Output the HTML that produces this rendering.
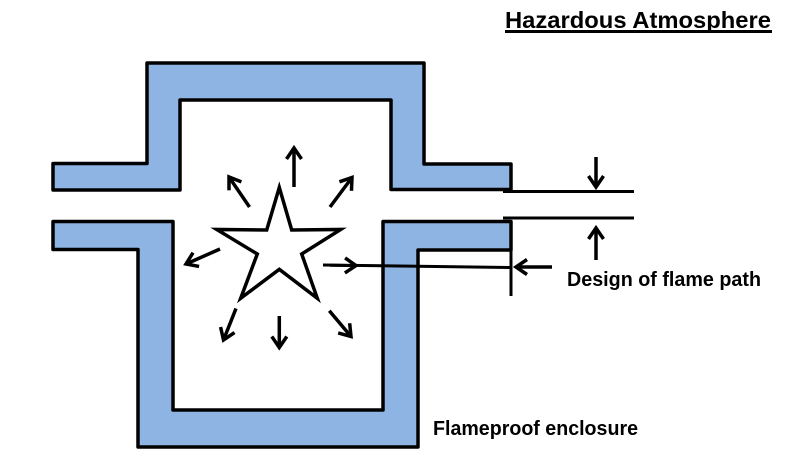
<!DOCTYPE html>
<html><head><meta charset="utf-8"><style>
html,body{margin:0;padding:0;background:#fff;}
svg{display:block;}
text{font-family:"Liberation Sans",Arial,sans-serif;font-weight:bold;fill:#000;}
</style></head><body>
<svg width="801" height="471" viewBox="0 0 801 471" xmlns="http://www.w3.org/2000/svg">
<defs>
<marker id="ah" markerUnits="userSpaceOnUse" markerWidth="20" markerHeight="20" refX="0" refY="0" viewBox="-14 -10 20 20" orient="auto" overflow="visible">
<path d="M-11,-7.5 L0,0 L-11,7.5" fill="none" stroke="#000" stroke-width="3.5" stroke-linejoin="miter"/>
</marker>
</defs>
<rect width="801" height="471" fill="#fff"/>
<!-- upper piece -->
<polygon points="53,163.5 147,163.5 147,63 424,63 424,164 511,164 511,189.5 391,189.5 391,100 180,100 180,190 53,190" fill="#8eb4e3" stroke="#000" stroke-width="3.5" stroke-linejoin="round"/>
<!-- lower piece -->
<polygon points="53,221.5 173,221.5 173,410 383,410 383,221.5 511,221.5 511,250 418,250 418,447 138,447 138,249.5 53,249.5" fill="#8eb4e3" stroke="#000" stroke-width="3.5" stroke-linejoin="round"/>
<!-- dimension lines -->
<polyline points="503,191.5 634,191.5" fill="none" stroke="#000" stroke-width="3"/>
<polyline points="503,218 634,218" fill="none" stroke="#000" stroke-width="3"/>
<line x1="511" y1="222" x2="511" y2="296" stroke="#000" stroke-width="3"/>
<line x1="596" y1="157" x2="596" y2="187" stroke="#000" stroke-width="3.5" marker-end="url(#ah)"/>
<line x1="596" y1="260" x2="596" y2="228" stroke="#000" stroke-width="3.5" marker-end="url(#ah)"/>
<line x1="552" y1="267" x2="516" y2="267" stroke="#000" stroke-width="3.5" marker-end="url(#ah)"/>
<line x1="323" y1="265" x2="511" y2="267.5" stroke="#000" stroke-width="3"/>
<line x1="330" y1="265.3" x2="356" y2="265.6" stroke="#000" stroke-width="3" marker-end="url(#ah)"/>
<!-- star -->
<polygon points="279.3,187.5 291.7,230 340.7,229.5 301.7,254 317.3,298.3 279.3,269.3 240.7,298.3 257.3,254 216.7,229.5 266.7,230" fill="#fff" stroke="#000" stroke-width="3.5" stroke-linejoin="miter"/>
<!-- blast arrows -->
<g stroke="#000" stroke-width="3.5" marker-end="url(#ah)">
<line x1="294" y1="187" x2="294" y2="148"/>
<line x1="249.5" y1="207" x2="229" y2="177"/>
<line x1="330" y1="207" x2="352" y2="177.5"/>
<line x1="220" y1="249" x2="186" y2="264"/>
<line x1="236" y1="308.5" x2="223.5" y2="340"/>
<line x1="279.3" y1="316" x2="279.3" y2="347.5"/>
<line x1="329.3" y1="310.7" x2="351" y2="336.5"/>
</g>
<!-- labels -->
<text x="505" y="28" font-size="23" textLength="266" lengthAdjust="spacingAndGlyphs">Hazardous Atmosphere</text>
<line x1="505" y1="31.5" x2="772" y2="31.5" stroke="#000" stroke-width="3"/>
<text x="567" y="286" font-size="20" textLength="194" lengthAdjust="spacingAndGlyphs">Design of flame path</text>
<text x="433" y="435" font-size="20" textLength="205" lengthAdjust="spacingAndGlyphs">Flameproof enclosure</text>
</svg>
</body></html>
